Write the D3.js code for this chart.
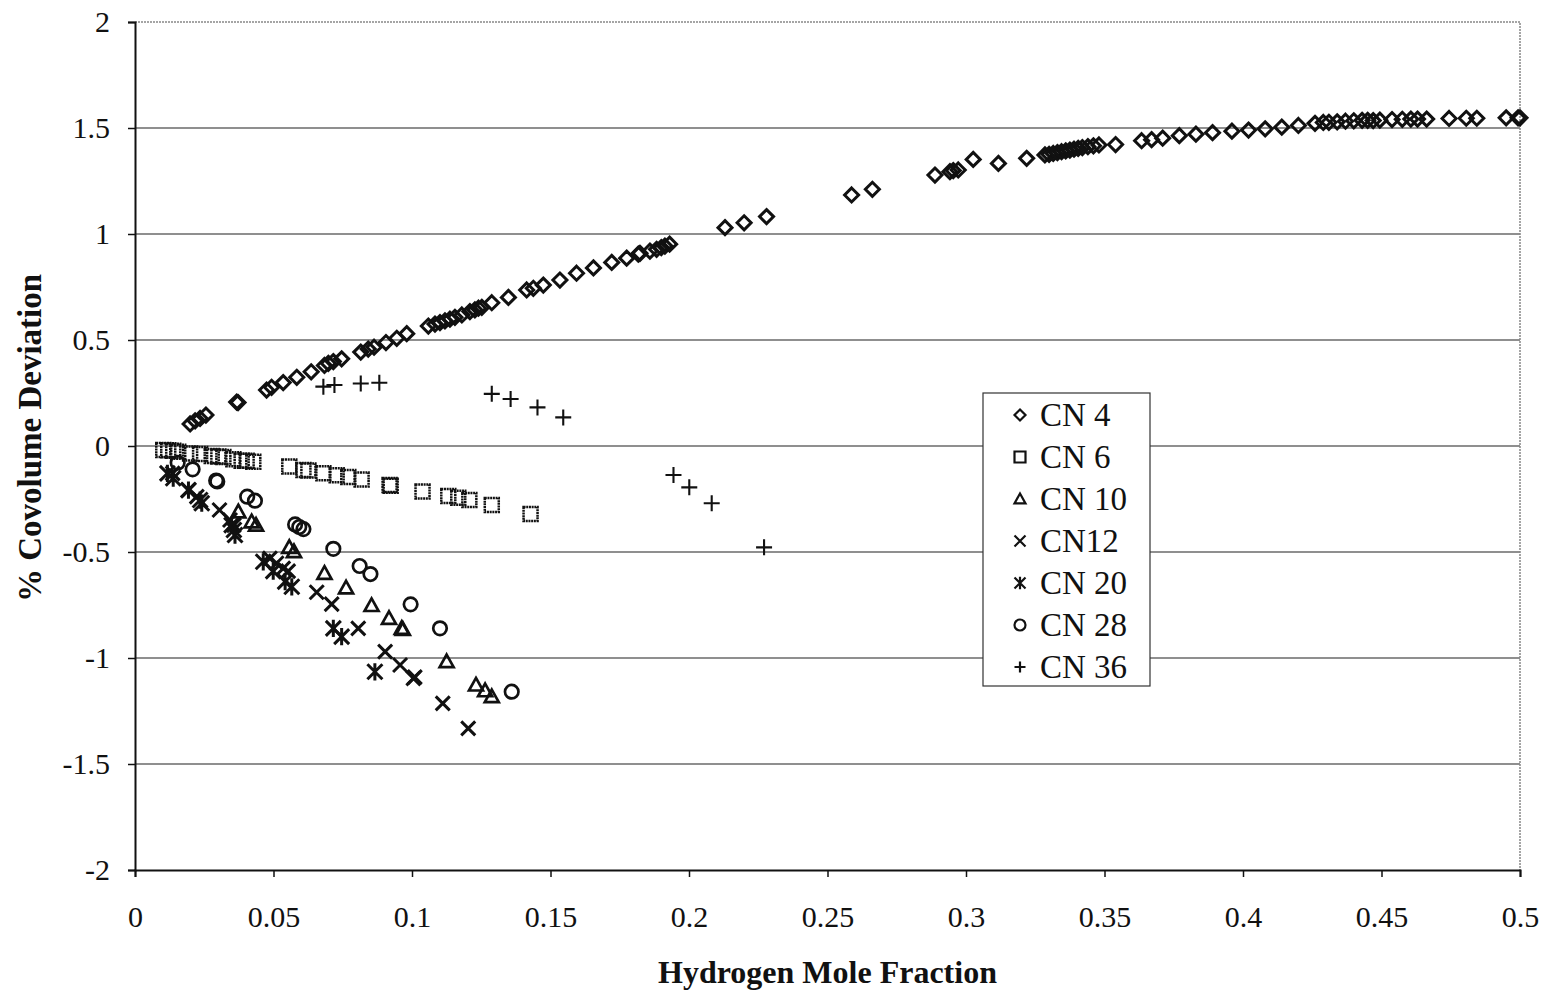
<!DOCTYPE html>
<html>
<head>
<meta charset="utf-8">
<script src="https://cdn.jsdelivr.net/npm/d3@7/dist/d3.min.js"></script>
<style>
  html, body { margin: 0; padding: 0; background: #fff; }
  svg { display: block; }
  text { font-family: "Liberation Serif", "Times New Roman", serif; fill: #111; }
</style>
</head>
<body>
<svg id="chart" width="1547" height="992"></svg>
<script>
// Hydrogen mole fraction vs. % covolume deviation, one series per carbon number
const cn4 = [[0.0199,0.104],[0.0217,0.119],[0.0235,0.13],[0.0256,0.146],[0.0367,0.207],[0.0372,0.205],
  [0.0475,0.264],[0.0493,0.277],[0.0535,0.299],[0.0584,0.324],[0.0636,0.35],[0.0684,0.38],[0.0698,0.39],
  [0.0716,0.398],[0.0746,0.411],[0.0815,0.443],[0.0842,0.457],[0.0863,0.466],[0.0906,0.488],[0.0945,0.508],
  [0.0981,0.53],[0.1059,0.566],[0.1083,0.575],[0.1101,0.582],[0.1119,0.59],[0.1137,0.598],[0.1155,0.607],
  [0.118,0.618],[0.1209,0.634],[0.1227,0.642],[0.124,0.65],[0.1252,0.654],[0.1288,0.676],[0.1348,0.701],
  [0.1414,0.736],[0.1438,0.744],[0.1474,0.759],[0.1534,0.783],[0.1594,0.815],[0.1655,0.84],[0.1721,0.866],
  [0.1775,0.886],[0.1817,0.905],[0.1823,0.909],[0.1859,0.919],[0.1883,0.928],[0.19,0.936],[0.1913,0.943],
  [0.193,0.952],[0.213,1.03],[0.2199,1.053],[0.228,1.082],[0.2587,1.184],[0.2662,1.211],[0.2888,1.278],
  [0.2942,1.294],[0.2954,1.299],[0.2972,1.302],[0.3026,1.352],[0.3117,1.333],[0.3219,1.357],[0.3285,1.373],
  [0.33,1.376],[0.3315,1.38],[0.333,1.384],[0.3345,1.388],[0.336,1.392],[0.3375,1.396],[0.339,1.4],
  [0.3405,1.404],[0.342,1.408],[0.344,1.412],[0.346,1.416],[0.348,1.42],[0.354,1.422],[0.3634,1.44],
  [0.367,1.445],[0.371,1.452],[0.377,1.464],[0.383,1.471],[0.389,1.478],[0.396,1.485],[0.402,1.49],
  [0.408,1.496],[0.414,1.504],[0.42,1.512],[0.426,1.522],[0.429,1.526],[0.431,1.527],[0.434,1.529],
  [0.437,1.532],[0.44,1.534],[0.443,1.536],[0.445,1.536],[0.447,1.535],[0.4494,1.537],[0.4538,1.54],
  [0.4575,1.541],[0.4606,1.542],[0.463,1.542],[0.4663,1.542],[0.4744,1.545],[0.4806,1.546],[0.4844,1.546],
  [0.495,1.548],[0.4993,1.548],[0.5,1.548]];

const cn6 = [[0.0102,-0.019],[0.012,-0.02],[0.0138,-0.022],[0.0156,-0.027],[0.0199,-0.035],[0.0235,-0.038],
  [0.0277,-0.047],[0.0301,-0.05],[0.0319,-0.052],[0.0355,-0.063],[0.0385,-0.069],[0.0403,-0.07],[0.0427,-0.074],
  [0.0557,-0.097],[0.0608,-0.113],[0.0626,-0.116],[0.068,-0.128],[0.0728,-0.138],[0.077,-0.146],[0.0818,-0.158],
  [0.0919,-0.184],[0.0923,-0.187],[0.1038,-0.215],[0.1131,-0.236],[0.1167,-0.244],[0.1207,-0.255],
  [0.1288,-0.278],[0.1428,-0.321]];

const cn10 = [[0.0373,-0.31],[0.0421,-0.357],[0.0437,-0.373],[0.0557,-0.478],[0.0574,-0.498],[0.0684,-0.6],
  [0.0762,-0.669],[0.0854,-0.752],[0.0917,-0.813],[0.0963,-0.86],[0.0967,-0.865],[0.1125,-1.017],
  [0.1231,-1.127],[0.1264,-1.154],[0.1288,-1.182]];

const cn12 = [[0.0136,-0.129],[0.0193,-0.208],[0.0223,-0.239],[0.0305,-0.302],[0.0343,-0.349],[0.0357,-0.373],
  [0.0487,-0.53],[0.0511,-0.553],[0.0535,-0.577],[0.0553,-0.59],[0.0656,-0.69],[0.071,-0.746],[0.0806,-0.86],
  [0.0903,-0.97],[0.0957,-1.033],[0.1005,-1.096],[0.101,-1.09],[0.1111,-1.214],[0.1203,-1.332]];

const cn20 = [[0.0117,-0.129],[0.0138,-0.152],[0.0193,-0.208],[0.0235,-0.255],[0.0241,-0.27],[0.0349,-0.373],
  [0.0357,-0.396],[0.0361,-0.42],[0.0463,-0.546],[0.0499,-0.59],[0.0542,-0.64],[0.0566,-0.664],
  [0.0716,-0.86],[0.0746,-0.899],[0.0866,-1.065]];

const cn28 = [[0.0154,-0.079],[0.0208,-0.11],[0.0293,-0.163],[0.0297,-0.167],[0.0405,-0.239],[0.0433,-0.258],
  [0.0578,-0.37],[0.0593,-0.382],[0.0608,-0.392],[0.0716,-0.485],[0.0811,-0.566],[0.085,-0.604],
  [0.0995,-0.747],[0.1101,-0.86],[0.136,-1.159]];

const cn36 = [[0.068,0.28],[0.072,0.288],[0.0815,0.295],[0.0882,0.298],[0.1288,0.246],[0.1356,0.222],
  [0.1453,0.182],[0.1546,0.135],[0.1944,-0.137],[0.2001,-0.195],[0.2082,-0.27],[0.2271,-0.478]];

const seriesNames = ["CN 4", "CN 6", "CN 10", "CN12", "CN 20", "CN 28", "CN 36"];
const seriesShapes = ["diamond", "square", "triangle", "cross", "asterisk", "circle", "plus"];
const seriesData = [cn4, cn6, cn10, cn12, cn20, cn28, cn36];

const xTicks = [0, 0.05, 0.1, 0.15, 0.2, 0.25, 0.3, 0.35, 0.4, 0.45, 0.5];
const yTicks = [-2, -1.5, -1, -0.5, 0, 0.5, 1, 1.5, 2];

const svg = d3.select("#chart");
const plot = { left: 135, top: 22, right: 1520, bottom: 870 };

const x = d3.scaleLinear().domain([0, 0.5]).range([plot.left, plot.right]);
const y = d3.scaleLinear().domain([-2, 2]).range([plot.bottom, plot.top]);

// horizontal gridlines
svg.append("g")
  .selectAll("line")
  .data(yTicks.filter(v => v > -2 && v < 2))
  .join("line")
  .attr("x1", plot.left).attr("x2", plot.right)
  .attr("y1", d => y(d)).attr("y2", d => y(d))
  .attr("stroke", "#6a6a6a").attr("stroke-width", 1.3);

// plot frame (top and right edges)
svg.append("path")
  .attr("d", `M${plot.left},${plot.top}H${plot.right}V${plot.bottom}`)
  .attr("fill", "none").attr("stroke", "#888").attr("stroke-width", 1.5)
  .attr("stroke-dasharray", "2,1");

// axes
const fmt = d => String(d);
const xAxis = svg.append("g")
  .attr("transform", `translate(0,${plot.bottom})`)
  .call(d3.axisBottom(x).tickValues(xTicks).tickFormat(fmt).tickSize(7).tickPadding(29));
const yAxis = svg.append("g")
  .attr("transform", `translate(${plot.left},0)`)
  .call(d3.axisLeft(y).tickValues(yTicks).tickFormat(fmt).tickSize(7).tickPadding(18));

[xAxis, yAxis].forEach(g => {
  g.select(".domain").attr("stroke", "#111").attr("stroke-width", 2);
  g.selectAll(".tick line").attr("stroke", "#111").attr("stroke-width", 1.5);
  g.selectAll(".tick text")
    .style("font-family", '"Liberation Serif", "Times New Roman", serif')
    .style("font-size", "30px").attr("fill", "#111");
});

// marker shapes, drawn around (0,0)
function shapePath(shape, s) {
  const h = s / 2;
  switch (shape) {
    case "diamond": return `M0,${-h}L${h},0L0,${h}L${-h},0Z`;
    case "square": return `M${-h},${-h}H${h}V${h}H${-h}Z`;
    case "triangle": return `M0,${-h}L${h},${h * 0.8}H${-h}Z`;
    case "cross": return `M${-h},${-h}L${h},${h}M${h},${-h}L${-h},${h}`;
    case "asterisk": return `M${-h},${-h}L${h},${h}M${h},${-h}L${-h},${h}M0,${-h * 1.15}V${h * 1.15}`;
    case "plus": return `M${-h},0H${h}M0,${-h}V${h}`;
    case "circle": {
      const p = d3.path();
      p.arc(0, 0, h, 0, 2 * Math.PI);
      p.closePath();
      return p.toString();
    }
  }
}

const markerSize = { diamond: 14, square: 14, triangle: 14, cross: 14, asterisk: 15, circle: 13.5, plus: 16 };
const markerStroke = { diamond: 3, square: 2.5, triangle: 2.7, cross: 3, asterisk: 3, circle: 2.7, plus: 2.1 };

seriesData.forEach((data, i) => {
  const shape = seriesShapes[i];
  svg.append("g")
    .selectAll("path")
    .data(data)
    .join("path")
    .attr("transform", d => `translate(${x(d[0])},${y(d[1])})`)
    .attr("d", shapePath(shape, markerSize[shape]))
    .attr("fill", "none")
    .attr("stroke", "#111")
    .attr("stroke-width", markerStroke[shape])
    .attr("stroke-dasharray", shape === "square" ? "2,0.7" : null);
});

// legend
const legend = svg.append("g").attr("transform", "translate(983,393)");
legend.append("rect")
  .attr("width", 167).attr("height", 293)
  .attr("fill", "#fff").attr("stroke", "#333").attr("stroke-width", 1.2);
seriesNames.forEach((name, i) => {
  const row = legend.append("g").attr("transform", `translate(37,${22 + i * 42})`);
  const shape = seriesShapes[i];
  row.append("path")
    .attr("d", shapePath(shape, 11))
    .attr("fill", "none").attr("stroke", "#111").attr("stroke-width", 2.2);
  row.append("text")
    .attr("x", 20).attr("y", 11)
    .style("font-size", "33px")
    .text(name);
});

// axis titles
svg.append("text")
  .attr("x", (plot.left + plot.right) / 2).attr("y", 983)
  .attr("text-anchor", "middle")
  .style("font-size", "32px").style("font-weight", "bold")
  .text("Hydrogen Mole Fraction");
svg.append("text")
  .attr("transform", `translate(41,438) rotate(-90)`)
  .attr("text-anchor", "middle")
  .style("font-size", "33px").style("font-weight", "bold")
  .text("% Covolume Deviation");
</script>
</body>
</html>
